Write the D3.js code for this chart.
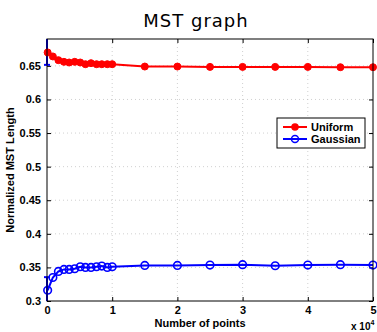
<!DOCTYPE html>
<html>
<head>
<meta charset="utf-8">
<script src="https://cdn.jsdelivr.net/npm/d3@7"></script>
<style>
  body { margin: 0; background: #fff; }
  svg { display: block; }
</style>
</head>
<body>
<svg width="377" height="332"></svg>
<script>
// data
const xSmall = [100, 900, 1750, 2600, 3400, 4250, 5100, 5900, 6750, 7600, 8400, 9250, 10000];
const xLarge = [15000, 20000, 25000, 30000, 35000, 40000, 45000, 50000];
const uniform = [0.670, 0.664, 0.6585, 0.656, 0.655, 0.656, 0.655, 0.6525, 0.654, 0.6525, 0.6525, 0.6525, 0.6525,
                 0.649, 0.649, 0.6485, 0.6485, 0.6485, 0.6485, 0.648, 0.648];
const gaussian = [0.316, 0.335, 0.344, 0.347, 0.347, 0.348, 0.351, 0.350, 0.350, 0.351, 0.352, 0.350, 0.351,
                  0.353, 0.353, 0.3535, 0.354, 0.3525, 0.3535, 0.354, 0.3535];
// error bars at the first Gaussian point (clipped by the axes)
const gaussErr = { x: 0, low: 0.2, high: 0.3355, low2: 0.6515, high2: 0.8 };
const yTicks = [0.3, 0.35, 0.4, 0.45, 0.5, 0.55, 0.6, 0.65];
const xTicks = [0, 10000, 20000, 30000, 40000, 50000];

const xs = xSmall.concat(xLarge);
const series = [
  { name: 'Uniform', color: '#ff0000', values: uniform, marker: 'dot' },
  { name: 'Gaussian', color: '#0000ff', values: gaussian, marker: 'circle' }
];

let margin = { top: 39, right: 4, bottom: 31, left: 47 },
  width = 377 - margin.left - margin.right,
  height = 332 - margin.top - margin.bottom;

let svg = d3.select('svg');

svg.append('text')
  .attr('x', 196).attr('y', 27)
  .attr('text-anchor', 'middle')
  .attr('font-family', 'DejaVu Sans')
  .attr('font-size', 18)
  .attr('letter-spacing', 1)
  .text('MST graph');

let g = svg.append('g')
  .attr('transform', 'translate(' + margin.left + ',' + margin.top + ')');

let x = d3.scaleLinear().domain([0, 50000]).range([0, width]);
let y = d3.scaleLinear().domain([0.3, 0.69]).range([height, 0]);

// grid
g.append('g').selectAll('line').data(yTicks.slice(1)).join('line')
  .attr('x1', 0).attr('x2', width)
  .attr('y1', d => y(d)).attr('y2', d => y(d))
  .attr('stroke', '#bbb').attr('stroke-width', 0.7).attr('stroke-dasharray', '1,3');
g.append('g').selectAll('line').data(xTicks.slice(1, -1)).join('line')
  .attr('y1', 0).attr('y2', height)
  .attr('x1', d => x(d)).attr('x2', d => x(d))
  .attr('stroke', '#bbb').attr('stroke-width', 0.7).attr('stroke-dasharray', '1,3');

// axes
let tickFont = sel => sel.selectAll('text')
  .attr('font-family', 'Liberation Sans, Arial')
  .attr('font-weight', 'bold')
  .attr('font-size', 11)
  .attr('fill', '#000');

g.append('g')
  .attr('transform', 'translate(0,' + height + ')')
  .call(d3.axisBottom(x).tickValues(xTicks).tickFormat(d => d / 10000).tickSize(-4).tickPadding(5))
  .call(tickFont)
  .call(a => a.select('.domain').remove());
g.append('g')
  .call(d3.axisLeft(y).tickValues(yTicks).tickFormat(d3.format('~g')).tickSize(-4).tickPadding(6))
  .call(tickFont)
  .call(a => a.select('.domain').remove());
g.append('g')
  .call(d3.axisTop(x).tickValues(xTicks).tickFormat('').tickSize(-4))
  .call(a => a.select('.domain').remove());
g.append('g')
  .attr('transform', 'translate(' + width + ',0)')
  .call(d3.axisRight(y).tickValues(yTicks).tickFormat('').tickSize(-4))
  .call(a => a.select('.domain').remove());

g.append('defs').append('clipPath').attr('id', 'clip')
  .append('rect').attr('x', -6).attr('y', 0).attr('width', width + 12).attr('height', height);

let plot = g.append('g').attr('clip-path', 'url(#clip)');

// error bars
let ex = x(gaussErr.x);
[[gaussErr.low, gaussErr.high], [gaussErr.low2, gaussErr.high2]].forEach(([lo, hi]) => {
  plot.append('line')
    .attr('x1', ex).attr('x2', ex).attr('y1', y(lo)).attr('y2', y(hi))
    .attr('stroke', '#0000ff').attr('stroke-width', 2);
  [lo, hi].forEach(v => plot.append('line')
    .attr('x1', ex - 3).attr('x2', ex + 3).attr('y1', y(v)).attr('y2', y(v))
    .attr('stroke', '#0000ff').attr('stroke-width', 2));
});

let line = d3.line().x((d, i) => x(xs[i])).y(d => y(d));

series.forEach(s => {
  plot.append('path')
    .datum(s.values)
    .attr('fill', 'none')
    .attr('stroke', s.color)
    .attr('stroke-width', 2)
    .attr('d', line);
  plot.append('g').selectAll('circle').data(s.values).join('circle')
    .attr('cx', (d, i) => x(xs[i]))
    .attr('cy', d => y(d))
    .attr('r', s.marker === 'dot' ? 3.5 : 3.8)
    .attr('fill', s.marker === 'dot' ? s.color : 'none')
    .attr('stroke', s.color)
    .attr('stroke-width', s.marker === 'dot' ? 1 : 1.6);
});

// frame
g.append('rect')
  .attr('width', width).attr('height', height)
  .attr('fill', 'none').attr('stroke', '#000').attr('stroke-width', 1);

// labels
svg.append('text')
  .attr('x', margin.left + width / 2 - 10).attr('y', 327)
  .attr('text-anchor', 'middle')
  .attr('font-family', 'Liberation Sans, Arial').attr('font-weight', 'bold').attr('font-size', 11)
  .text('Number of points');
svg.append('text')
  .attr('transform', 'translate(14,' + (margin.top + height / 2) + ') rotate(-90)')
  .attr('text-anchor', 'middle')
  .attr('font-family', 'Liberation Sans, Arial').attr('font-weight', 'bold').attr('font-size', 11)
  .text('Normalized MST Length');
let mult = svg.append('text')
  .attr('x', 351).attr('y', 330)
  .attr('font-family', 'Liberation Sans, Arial').attr('font-weight', 'bold').attr('font-size', 10);
mult.append('tspan').text('x 10');
mult.append('tspan').attr('dy', -5).attr('font-size', 7).text('4');

// legend
let lg = svg.append('g').attr('transform', 'translate(277,118)');
lg.append('rect').attr('width', 88).attr('height', 30)
  .attr('fill', '#fff').attr('stroke', '#000').attr('stroke-width', 1);
series.forEach((s, i) => {
  let ly = 9 + i * 12;
  lg.append('line').attr('x1', 6).attr('x2', 30).attr('y1', ly).attr('y2', ly)
    .attr('stroke', s.color).attr('stroke-width', 2);
  lg.append('circle').attr('cx', 18).attr('cy', ly)
    .attr('r', s.marker === 'dot' ? 3 : 3.5)
    .attr('fill', s.marker === 'dot' ? s.color : 'none')
    .attr('stroke', s.color).attr('stroke-width', 1.5);
  lg.append('text').attr('x', 34).attr('y', ly + 4)
    .attr('font-family', 'Liberation Sans, Arial').attr('font-weight', 'bold').attr('font-size', 11)
    .text(s.name);
});
</script>
</body>
</html>
